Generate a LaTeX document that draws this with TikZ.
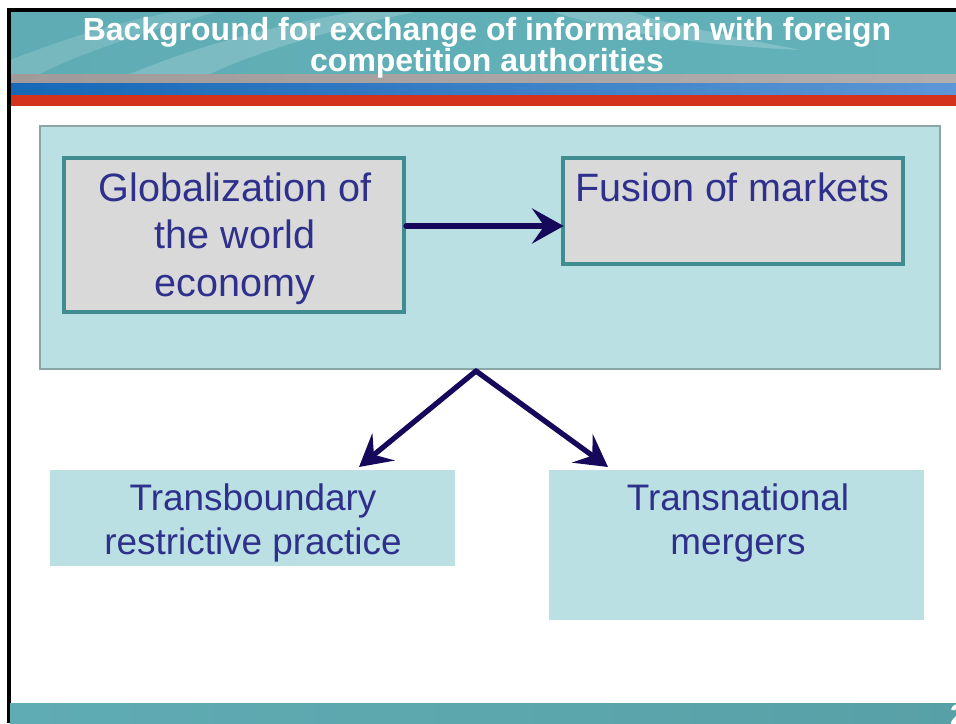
\documentclass[tikz,border=0pt]{standalone}
\usepackage{fontspec}
\setmainfont{Liberation Sans}
\usetikzlibrary{arrows.meta}

\definecolor{headleft}{RGB}{96,172,180}
\definecolor{headmid}{RGB}{168,216,219}
\definecolor{headright}{RGB}{98,178,185}
\definecolor{silverleft}{RGB}{160,154,154}
\definecolor{silverright}{RGB}{226,226,234}
\definecolor{bandblue}{RGB}{22,104,182}
\definecolor{bandbluelight}{RGB}{92,150,214}
\definecolor{bandred}{RGB}{212,50,28}
\definecolor{bandorange}{RGB}{232,118,78}
\definecolor{boxcyan}{RGB}{186,224,227}
\definecolor{boxgrey}{RGB}{217,217,217}
\definecolor{boxedge}{RGB}{64,141,145}
\definecolor{paneledge}{RGB}{140,166,166}
\definecolor{labelblue}{RGB}{46,48,140}
\definecolor{arrownavy}{RGB}{22,8,90}

\tikzset{
  greybox/.style={draw=boxedge, line width=2.3pt, fill=boxgrey, inner sep=0pt},
  cyanbox/.style={fill=boxcyan, inner sep=0pt},
  boxtext/.style={text=labelblue, align=center, font=\fontsize{22.5}{27}\selectfont},
  lowtext/.style={text=labelblue, align=center, font=\fontsize{21}{25}\selectfont},
  titletext/.style={text=white, align=center, font=\bfseries\fontsize{18.2}{17.6}\selectfont},
  navyarrow/.style={draw=arrownavy, line width=3pt, line cap=round, -{Stealth[length=18, width=20, inset=7]}},
}

\begin{document}
\begin{tikzpicture}
\useasboundingbox (0,0) rectangle (19.12,-14.46);

% header
\shade[left color=headleft, middle color=headmid, right color=headright] (0.2,-0.22) rectangle (19.12,-1.48);
\fill[white, opacity=0.18] (2.6,-1.48) .. controls (4,-0.9) and (5.5,-0.5) .. (7.2,-0.22) -- (8.4,-0.22) .. controls (6.5,-0.6) and (5,-1.1) .. (4.2,-1.48) -- cycle;
\fill[white, opacity=0.15] (0.2,-1.2) .. controls (1.5,-0.7) and (2.5,-0.4) .. (3.6,-0.22) -- (4.4,-0.22) .. controls (3,-0.6) and (1.5,-1.1) .. (0.8,-1.48) -- (0.2,-1.48) -- cycle;
\fill[white, opacity=0.2] (11,-0.22) .. controls (12.5,-0.7) and (14,-0.9) .. (16,-1.0) .. controls (14,-0.6) and (13,-0.4) .. (12.6,-0.22) -- cycle;
\shade[left color=silverleft, middle color=silverright, right color=silverleft!80!white] (0.2,-1.48) rectangle (19.12,-1.66);
\shade[left color=bandblue, middle color=bandblue!80!bandbluelight, right color=bandbluelight] (0.2,-1.66) rectangle (19.12,-1.90);
\shade[left color=bandred, middle color=bandorange, right color=bandred] (0.2,-1.90) rectangle (19.12,-2.10);
\draw[line width=2pt] (0.18,-14.46) -- (0.18,-0.2) -- (19.12,-0.2);

\node[titletext, anchor=base] (title) at (9.74,-1.42) {Background for exchange of information with foreign\\competition authorities};

% footer
\shade[left color=headleft, middle color=headmid!80!white, right color=headright!90!black] (0.2,-14.06) rectangle (19.12,-14.46);
\node[text=white, font=\bfseries\fontsize{17}{17}\selectfont] (pagenum) at (19.17,-14.30) {2};

\node[cyanbox, draw=paneledge, line width=1pt, minimum width=18cm, minimum height=4.86cm] (panel) at (9.80,-4.95) {};

\node[greybox, minimum width=6.80cm, minimum height=3.08cm] (glob) at (4.68,-4.70) {};
\node[boxtext, anchor=base] (globtext) at (4.70,-5.92) {Globalization of\\the world\\economy};

\node[greybox, minimum width=6.80cm, minimum height=2.12cm] (fusion) at (14.66,-4.22) {};
\node[boxtext, anchor=base] (fusiontext) at (14.65,-4.02) {Fusion of markets};

\draw[navyarrow, shorten >=-1.5pt] (glob.east |- 0,-4.52) -- (fusion.west |- 0,-4.52);

\node[cyanbox, minimum width=8.10cm, minimum height=1.92cm] (boundary) at (5.05,-10.36) {};
\node[lowtext, anchor=base] (boundarytext) at (5.06,-11.08) {Transboundary\\restrictive practice};

\node[cyanbox, minimum width=7.50cm, minimum height=3.00cm] (mergers) at (14.73,-10.90) {};
\node[lowtext, anchor=base] (mergerstext) at (14.76,-11.08) {Transnational\\mergers};

\coordinate (split) at (9.52,-7.42);
\coordinate (leftend) at (7.18,-9.34);
\coordinate (rightend) at (12.16,-9.34);
\draw[navyarrow] (split) -- (leftend);
\draw[navyarrow] (split) -- (rightend);

\end{tikzpicture}
\end{document}
